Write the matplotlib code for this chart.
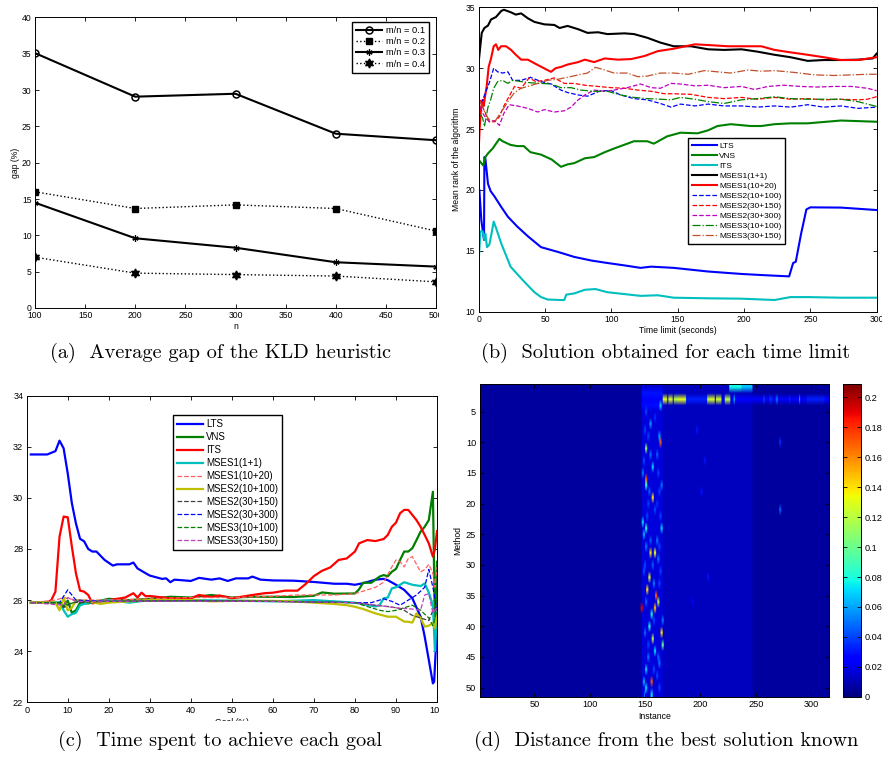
import matplotlib
matplotlib.use("Agg")
import matplotlib.pyplot as plt
import numpy as np
from matplotlib.transforms import Bbox, TransformedBbox

W, H = 882, 758

# ---------------- (a) KLD heuristic gap ----------------
n_values = [100, 200, 300, 400, 500]
gap_01 = [35.1, 29.1, 29.5, 24.0, 23.1]
gap_02 = [16.0, 13.7, 14.2, 13.7, 10.6]
gap_03 = [14.5, 9.6, 8.3, 6.3, 5.7]
gap_04 = [7.0, 4.8, 4.6, 4.4, 3.6]

# ---------------- (b) mean rank vs time limit ----------------
lts_t = [0.5, 2, 3, 4, 4.3, 5, 7, 9, 12, 17, 22, 29, 37, 47, 60, 72, 85, 97, 110, 122, 130, 147, 173, 198, 215, 234,
         237, 239, 243, 247, 250, 273, 300]
lts_v = [20.0, 17.5, 16.7, 15.9, 22.7, 22.6, 20.5, 19.9, 19.45, 18.6, 17.8, 17.0, 16.2, 15.3, 14.9, 14.5, 14.2, 14.0,
         13.8, 13.6, 13.7, 13.6, 13.3, 13.1, 13.0, 12.9, 14.0, 14.1, 16.4, 18.4, 18.57, 18.55, 18.35]
vns_t = [0, 2, 3.5, 5, 7, 10.5, 15.6, 18, 24, 29, 34, 39, 47, 55, 62, 67, 72, 80, 87, 95, 102, 112, 117, 127, 132, 142,
         152, 165, 173, 180, 190, 205, 213, 223, 235, 248, 273, 300]
vns_v = [22.46, 22.2, 22.0, 22.7, 23.0, 23.4, 24.2, 24.0, 23.7, 23.6, 23.6, 23.1, 22.9, 22.5, 21.9, 22.1, 22.2, 22.6,
         22.7, 23.1, 23.4, 23.8, 24.0, 24.0, 23.8, 24.4, 24.7, 24.65, 24.9, 25.25, 25.4, 25.25, 25.25, 25.4, 25.47,
         25.47, 25.7, 25.6]
its_t = [0, 1.3, 3, 4.3, 5, 6.3, 8, 9.3, 11.3, 13, 17, 24, 34, 42, 47, 52, 62, 64.5, 66, 72, 80, 88, 97, 122, 135,
         147, 173, 198, 223, 235, 248, 273, 300]
its_v = [14.2, 16.6, 16.6, 15.9, 16.4, 15.3, 15.5, 16.2, 17.4, 16.9, 15.6, 13.7, 12.5, 11.6, 11.2, 11.0, 10.96, 10.96,
         11.4, 11.5, 11.8, 11.86, 11.6, 11.3, 11.35, 11.15, 11.1, 11.07, 10.96, 11.2, 11.2, 11.15, 11.15]
m11_t = [0, 1.3, 2.3, 4.3, 7, 9.3, 13, 17, 19, 24, 28, 32, 37, 42, 49.5, 57, 61, 67, 75, 82, 90, 97, 110, 117, 127,
         137, 147, 160, 173, 185, 198, 210, 223, 235, 248, 260, 273, 286, 297, 300]
m11_v = [30.5, 31.9, 32.9, 33.3, 33.5, 34.0, 34.2, 34.7, 34.8, 34.6, 34.4, 34.5, 34.1, 33.8, 33.6, 33.55, 33.3, 33.47,
         33.2, 32.9, 32.95, 32.8, 32.86, 32.8, 32.5, 32.1, 31.8, 31.8, 31.55, 31.5, 31.55, 31.36, 31.1, 30.9, 30.6,
         30.67, 30.67, 30.7, 30.8, 31.2]
m1020_t = [0, 0.8, 1.8, 3, 3.8, 4.8, 6, 7.5, 9.3, 11.3, 13, 14.8, 16.8, 20.6, 24.4, 28, 32, 37, 44.5, 54.5, 58, 62, 67,
           75, 80, 87, 95, 105, 115, 125, 135, 147, 163, 173, 188, 203, 213, 223, 235, 248, 260, 273, 286, 300]
m1020_v = [23.3, 25.2, 26.8, 27.4, 26.9, 27.7, 28.5, 30.1, 30.8, 31.8, 31.96, 31.5, 31.8, 31.8, 31.5, 31.1, 30.7, 30.7,
           30.26, 29.7, 30.0, 30.1, 30.3, 30.5, 30.7, 30.5, 30.8, 30.7, 30.75, 31.0, 31.4, 31.6, 31.96, 31.9, 31.8,
           31.8, 31.8, 31.5, 31.3, 31.1, 30.9, 30.67, 30.67, 30.9]
m210100_t = [1.3, 3, 5.5, 8, 11.3, 14.3, 18, 22, 25.6, 32, 39, 47, 54.5, 62, 67, 75, 82, 92, 100, 107, 117, 127, 137,
             145, 152, 163, 173, 185, 198, 210, 223, 235, 248, 260, 273, 286, 300]
m210100_v = [27.1, 27.4, 28.1, 28.8, 30.0, 29.7, 29.6, 29.7, 29.0, 29.0, 29.25, 28.9, 28.7, 28.2, 28.0, 27.8, 27.7,
             28.15, 28.15, 27.8, 27.5, 27.4, 27.1, 26.8, 27.05, 26.9, 27.05, 26.9, 26.9, 26.8, 26.9, 26.8, 27.0, 26.8,
             26.9, 26.7, 26.8]
m230150_t = [1.3, 3, 5.5, 8, 12, 15.6, 19, 23, 27, 32, 38, 43, 49.5, 57, 64.5, 72, 80, 90, 100, 110, 120, 130, 140,
             147, 160, 173, 185, 198, 210, 223, 235, 248, 260, 273, 286, 293, 300]
m230150_v = [27.4, 26.8, 26.2, 25.6, 25.6, 26.0, 26.9, 27.7, 28.5, 28.35, 29.2, 28.9, 29.0, 29.2, 28.75, 28.75, 28.6,
             28.5, 28.4, 28.35, 28.2, 28.1, 27.9, 27.9, 27.85, 27.6, 27.5, 27.6, 27.45, 27.6, 27.45, 27.5, 27.4, 27.45,
             27.4, 27.45, 27.66]
m230300_t = [1.3, 3, 5.5, 8, 12, 15.6, 19, 23, 29, 37, 44.5, 49.5, 57, 64.5, 69.6, 75, 80, 87, 95, 102, 112, 122, 130,
             137, 145, 152, 163, 173, 185, 198, 208, 218, 230, 243, 255, 268, 281, 293, 300]
m230300_v = [26.8, 26.3, 25.9, 25.6, 25.7, 25.3, 26.3, 27.0, 26.9, 26.7, 26.4, 26.6, 26.4, 26.5, 26.8, 27.4, 27.8,
             28.2, 28.1, 28.2, 28.4, 28.7, 28.4, 28.35, 28.75, 28.7, 28.55, 28.6, 28.4, 28.5, 28.25, 28.5, 28.6, 28.5,
             28.45, 28.5, 28.5, 28.35, 28.15]
m310100_t = [1.3, 3, 4.3, 7, 9, 11.3, 14.3, 18, 22, 25.6, 32, 39, 47, 54.5, 62, 69.6, 77, 87, 97, 107, 117, 127, 137,
             145, 152, 163, 173, 185, 198, 210, 223, 235, 248, 260, 273, 286, 300]
m310100_v = [26.2, 25.9, 25.2, 26.8, 27.4, 28.35, 28.9, 29.0, 28.75, 29.0, 28.9, 28.8, 28.75, 28.7, 28.4, 28.4, 28.2,
             28.1, 28.1, 27.8, 27.6, 27.5, 27.45, 27.4, 27.6, 27.45, 27.25, 27.1, 27.4, 27.5, 27.65, 27.5, 27.45,
             27.45, 27.45, 27.25, 26.85]
m330150_t = [1.3, 3, 5.5, 8, 12, 17, 22, 27, 32, 37, 44.5, 52, 60, 67, 75, 82, 88, 95, 102, 112, 120, 127, 137, 147,
             158, 170, 180, 190, 203, 213, 223, 238, 253, 268, 281, 293, 300]
m330150_v = [27.25, 26.8, 26.15, 25.75, 25.6, 26.4, 27.25, 28.0, 28.35, 28.5, 28.75, 29.0, 29.1, 29.25, 29.45, 29.6,
             30.07, 29.85, 29.6, 29.6, 29.3, 29.35, 29.6, 29.6, 29.5, 29.8, 29.7, 29.6, 29.85, 29.75, 29.8, 29.65,
             29.45, 29.4, 29.45, 29.5, 29.5]

# ---------------- (c) time spent per goal ----------------
c_lts_x = [1, 5, 7, 8, 9, 10, 11, 12, 13, 14, 15, 16, 17, 19, 21, 22, 25, 26, 27, 29, 30, 33, 34, 35, 36, 40, 42, 45,
           47, 49, 51, 54, 55, 57, 60, 65, 70, 75, 78, 80, 82, 85, 87, 88, 90, 92, 94, 96, 97, 98, 99, 99.3, 100]
c_lts_y = [31.7, 31.7, 31.83, 32.24, 31.94, 30.96, 29.8, 29.0, 28.4, 28.3, 28.0, 27.9, 27.9, 27.57, 27.35, 27.4, 27.4,
           27.47, 27.24, 27.05, 26.96, 26.83, 26.85, 26.7, 26.8, 26.75, 26.87, 26.8, 26.85, 26.75, 26.85, 26.85,
           26.92, 26.8, 26.77, 26.76, 26.71, 26.64, 26.64, 26.6, 26.66, 26.8, 26.83, 26.78, 26.6, 26.4, 26.07, 25.35,
           24.57, 23.66, 22.74, 22.8, 25.0]
c_vns_x = [1, 8, 9, 10, 11, 12, 13, 15, 20, 25, 30, 35, 40, 45, 50, 55, 60, 65, 70, 72, 75, 80, 81, 82, 84, 86, 87, 88,
           89, 90, 91, 92, 93, 94, 95, 96, 97, 98, 99, 99.5, 100]
c_vns_y = [25.9, 25.9, 25.75, 25.98, 25.5, 25.6, 25.9, 25.87, 26.05, 26.0, 26.05, 26.13, 26.1, 26.2, 26.1, 26.13,
           26.13, 26.12, 26.17, 26.3, 26.25, 26.26, 26.42, 26.68, 26.68, 26.92, 26.98, 26.93, 27.11, 27.22, 27.57,
           27.9, 27.9, 28.03, 28.35, 28.68, 28.87, 29.13, 30.24, 24.85, 27.5]
c_its_x = [1, 5, 6, 7, 8, 9, 10, 11, 12, 13, 14, 15, 16, 18, 20, 22, 24, 26, 27, 28, 29, 30, 35, 40, 42, 45, 47, 50,
           55, 58, 60, 63, 66, 68, 70, 72, 74, 76, 78, 80, 81, 83, 85, 87, 88, 89, 90, 91, 92, 93, 94, 95, 96, 97, 98,
           99, 99.5, 100]
c_its_y = [25.9, 25.9, 26.0, 26.33, 28.48, 29.27, 29.24, 28.1, 27.05, 26.37, 26.33, 26.2, 25.87, 25.95, 26.0, 26.05,
           26.1, 26.27, 26.1, 26.29, 26.15, 26.16, 26.07, 26.07, 26.2, 26.12, 26.18, 26.07, 26.2, 26.27, 26.29, 26.37,
           26.37, 26.63, 26.94, 27.15, 27.28, 27.57, 27.63, 27.9, 28.22, 28.35, 28.31, 28.39, 28.55, 28.87, 29.03,
           29.4, 29.53, 29.53, 29.33, 29.13, 28.87, 28.55, 28.22, 27.7, 28.0, 28.7]
c_m11_x = [1, 8, 9, 10, 11, 12, 13, 15, 20, 25, 30, 40, 50, 60, 70, 75, 80, 85, 86, 87, 88, 89, 90, 92, 94, 96, 97, 98,
           99, 99.5, 100]
c_m11_y = [25.9, 25.9, 25.6, 25.35, 25.45, 25.5, 25.8, 25.9, 26.0, 25.9, 26.0, 26.0, 25.98, 25.95, 26.0, 25.95, 25.9,
           25.75, 25.8, 26.07, 26.1, 26.46, 26.5, 26.7, 26.6, 26.55, 26.65, 26.3, 25.8, 24.0, 25.5]
c_m1020_x = [1, 7, 9, 12, 20, 30, 40, 50, 60, 66, 70, 75, 80, 83, 85, 87, 88, 89, 90, 91, 92, 93, 94, 95, 96, 97, 98,
             99, 99.5, 100]
c_m1020_y = [25.9, 26.0, 26.1, 26.0, 26.0, 26.05, 26.1, 26.1, 26.15, 26.2, 26.2, 26.2, 26.25, 26.4, 26.5, 26.7, 27.0,
             27.3, 27.57, 27.5, 27.3, 27.63, 27.7, 27.4, 27.1, 27.2, 27.4, 27.05, 26.5, 27.3]
c_m210100_x = [1, 7, 8, 9, 10, 11, 12, 15, 18, 20, 30, 40, 45, 50, 60, 65, 70, 75, 78, 80, 82, 85, 88, 90, 92, 93, 94,
               95, 96, 97, 98, 99, 99.5, 100]
c_m210100_y = [25.9, 25.9, 25.6, 26.1, 25.6, 25.7, 26.0, 25.95, 25.85, 25.9, 26.0, 26.0, 25.95, 25.97, 25.97, 25.95,
               25.9, 25.85, 25.8, 25.74, 25.65, 25.48, 25.35, 25.35, 25.16, 25.15, 25.12, 25.48, 25.3, 24.96, 25.0,
               25.1, 24.9, 25.4]
c_m230150_x = [1, 8, 9, 11, 20, 40, 60, 80, 85, 88, 90, 92, 94, 96, 98, 99, 100]
c_m230150_y = [25.9, 25.9, 25.7, 25.9, 25.95, 25.98, 25.95, 25.9, 25.8, 25.75, 25.7, 25.6, 25.4, 25.3, 25.2, 25.6,
               25.8]
c_m230300_x = [1, 8, 10, 11, 12, 20, 40, 60, 80, 84, 87, 89, 91, 93, 95, 97, 98, 99, 100]
c_m230300_y = [25.9, 25.9, 26.4, 26.2, 26.0, 25.95, 25.97, 25.95, 25.9, 25.9, 26.05, 25.95, 25.8, 26.0, 26.2, 26.5,
               27.2, 26.5, 25.6]
c_m310100_x = [1, 9, 10, 12, 20, 40, 60, 80, 84, 86, 88, 90, 92, 94, 96, 98, 99, 100]
c_m310100_y = [25.9, 25.9, 25.8, 25.95, 25.95, 25.97, 25.95, 25.9, 25.7, 25.6, 25.55, 25.6, 25.7, 25.8, 25.6, 25.3,
               25.0, 25.6]
c_m330150_x = [1, 9, 10, 12, 20, 40, 60, 80, 85, 90, 94, 96, 97, 98, 99, 100]
c_m330150_y = [25.9, 25.8, 26.1, 25.95, 25.95, 25.96, 25.95, 25.9, 25.8, 25.7, 25.65, 25.6, 26.2, 26.25, 25.5, 25.7]

method_labels = ["LTS", "VNS", "ITS", "MSES1(1+1)", "MSES1(10+20)", "MSES2(10+100)", "MSES2(30+150)",
                 "MSES2(30+300)", "MSES3(10+100)", "MSES3(30+150)"]

# ---------------- (d) distance heatmap (51 methods x 316 instances) ----------------
n_methods, n_instances = 51, 316
heat_background = 0.006
# (first col, last col, value) applied to every method
heat_bands = [(147, 165, 0.017), (166, 246, 0.012)]
# (row, first col, last col, value)
heat_spans = [(1, 226, 236, 0.078), (1, 237, 246, 0.066),
              (2, 147, 165, 0.03), (4, 147, 165, 0.028), (3, 147, 316, 0.026),
              (3, 166, 169, 0.13), (3, 171, 174, 0.13), (3, 176, 178, 0.12), (3, 179, 186, 0.13),
              (3, 187, 205, 0.032), (3, 206, 208, 0.12), (3, 209, 212, 0.13), (3, 214, 218, 0.125),
              (3, 222, 226, 0.12), (3, 230, 230, 0.075), (3, 257, 257, 0.045), (3, 262, 264, 0.035),
              (3, 268, 269, 0.05), (3, 280, 280, 0.035), (3, 289, 289, 0.06), (3, 296, 311, 0.032)]
# (row, col, value) isolated spots, two instances wide
heat_spots = [(4, 163, 0.07), (7, 154, 0.06), (9, 162, 0.06), (10, 163, 0.17), (11, 150, 0.11), (12, 154, 0.05),
              (13, 148, 0.04), (14, 156, 0.07), (15, 147, 0.05), (16, 150, 0.17), (17, 150, 0.08), (17, 164, 0.05),
              (19, 156, 0.14), (20, 152, 0.04), (23, 147, 0.07), (24, 150, 0.08), (24, 164, 0.07), (25, 148, 0.06),
              (26, 160, 0.05), (28, 154, 0.14), (28, 158, 0.13), (29, 161, 0.05), (30, 149, 0.04), (32, 153, 0.13),
              (34, 151, 0.14), (35, 159, 0.17), (36, 161, 0.12), (37, 146, 0.19), (37, 158, 0.15), (38, 155, 0.08),
              (39, 165, 0.05), (40, 153, 0.08), (41, 164, 0.14), (42, 156, 0.12), (43, 165, 0.1), (44, 158, 0.07),
              (46, 162, 0.05), (47, 150, 0.07), (49, 148, 0.06), (49, 155, 0.17), (50, 150, 0.07), (51, 155, 0.07),
              (5, 150, 0.04), (8, 149, 0.04), (18, 162, 0.04), (21, 158, 0.04), (22, 163, 0.04), (27, 150, 0.05),
              (31, 163, 0.04), (33, 157, 0.05), (45, 152, 0.05), (48, 160, 0.04), (6, 158, 0.035), (9, 152, 0.04),
              (12, 160, 0.045), (15, 161, 0.04), (18, 153, 0.045), (20, 160, 0.035), (22, 151, 0.04),
              (26, 154, 0.045), (27, 162, 0.04), (30, 156, 0.045), (31, 148, 0.04), (33, 162, 0.04),
              (36, 150, 0.045), (39, 157, 0.04), (41, 149, 0.045), (43, 152, 0.04), (45, 161, 0.045),
              (47, 157, 0.04), (50, 162, 0.04), (51, 149, 0.045),
              (8, 196, 0.03), (10, 271, 0.035), (21, 271, 0.045), (13, 203, 0.03), (18, 200, 0.03), (32, 206, 0.03),
              (36, 192, 0.025)]
heat_max = 0.209

plt.rcParams["font.family"] = ["Liberation Sans", "DejaVu Sans"]
plt.rcParams["font.size"] = 6.2
plt.rcParams["axes.linewidth"] = 0.7
for a in ("xtick", "ytick"):
    plt.rcParams[a + ".direction"] = "in"
    plt.rcParams[a + ".major.size"] = 3
    plt.rcParams[a + ".major.width"] = 0.6
    plt.rcParams[a + ".major.pad"] = 2.5
plt.rcParams["xtick.top"] = True
plt.rcParams["ytick.right"] = True

fig = plt.figure(figsize=(W / 100, H / 100), dpi=100)


def px_axes(l, t, r, b):
    return fig.add_axes([l / W, 1 - b / H, (r - l) / W, (b - t) / H])


def clip_texts(texts, l, t, r, b):
    box = TransformedBbox(Bbox.from_extents(l / W, 1 - b / H, r / W, 1 - t / H), fig.transFigure)
    for txt in texts:
        txt.set_clip_box(box)
        txt.set_clip_on(True)


def legend_at(ax, handles, labels, x, y, size, spacing, hlen, pad):
    leg = ax.legend(handles, labels, loc="upper left", bbox_to_anchor=(x / W, 1 - y / H),
                    bbox_transform=fig.transFigure, borderaxespad=0, fontsize=size, labelspacing=spacing,
                    handlelength=hlen, handletextpad=pad, borderpad=0.45, fancybox=False, framealpha=1,
                    edgecolor="black")
    leg.get_frame().set_linewidth(1.0)
    return leg


# ---- (a)
ax_a = px_axes(35, 17.5, 436, 308)
ax_a.plot(n_values, gap_01, "-", color="black", lw=1.5, marker="o", ms=5, mfc="none", mew=1.1, label="m/n = 0.1")
ax_a.plot(n_values, gap_02, ":", color="black", lw=1.0, marker="s", ms=5, label="m/n = 0.2")
ax_a.plot(n_values, gap_03, "-", color="black", lw=1.5, marker=(6, 2, 0), ms=4.5, mew=0.9, label="m/n = 0.3")
ax_a.plot(n_values, gap_04, ":", color="black", lw=1.0, marker=(6, 1, 0), ms=6.5, label="m/n = 0.4")
ax_a.set_xlim(100, 500)
ax_a.set_ylim(0, 40)
ax_a.set_xticks(np.arange(100, 501, 50))
ax_a.set_yticks(np.arange(0, 41, 5))
ax_a.set_xlabel("n", labelpad=1)
ax_a.set_ylabel("gap (%)", labelpad=1)
h, lab = ax_a.get_legend_handles_labels()
legend_at(ax_a, h, lab, 351.7, 21.7, 6.7, 0.24, 2.8, 0.4)
clip_texts(ax_a.get_xticklabels(), 0, 0, 439, 345)

# ---- (b)
ax_b = px_axes(478.7, 7.3, 876.7, 311.7)
b_series = [(lts_t, lts_v, "-", "#0000ff", 1.5), (vns_t, vns_v, "-", "#008000", 1.5),
            (its_t, its_v, "-", "#00bfbf", 1.5), (m11_t, m11_v, "-", "black", 1.5),
            (m1020_t, m1020_v, "-", "#ff0000", 1.5), (m210100_t, m210100_v, "--", "#0000ff", 0.9),
            (m230150_t, m230150_v, "--", "#ff0000", 0.9), (m230300_t, m230300_v, "--", "#bf00bf", 0.9),
            (m310100_t, m310100_v, "-.", "#008000", 0.9), (m330150_t, m330150_v, "-.", "#c0502a", 0.9)]
b_handles = []
for t, v, ls, col, lw in b_series:
    ln, = ax_b.plot(t, v, ls, color=col, lw=lw)
    b_handles.append(ln)
ax_b.set_xlim(0, 300)
ax_b.set_ylim(10, 35)
ax_b.set_xticks(np.arange(0, 301, 50))
ax_b.set_yticks(np.arange(10, 36, 5))
ax_b.set_xlabel("Time limit (seconds)", labelpad=1)
ax_b.set_ylabel("Mean rank of the algorithm", labelpad=3)
legend_at(ax_b, b_handles, method_labels, 688, 138, 6.0, 0.27, 3.0, 0.3)

# ---- (c)
ax_c = px_axes(26.7, 395.7, 437, 702.3)
c_series = [(c_lts_x, c_lts_y, "-", "#0000ff", 1.6), (c_vns_x, c_vns_y, "-", "#008000", 1.6),
            (c_its_x, c_its_y, "-", "#ff0000", 1.6), (c_m11_x, c_m11_y, "-", "#00bfbf", 1.6),
            (c_m1020_x, c_m1020_y, "--", "#ff6060", 0.9), (c_m210100_x, c_m210100_y, "-", "#bfbf00", 1.6),
            (c_m230150_x, c_m230150_y, "--", "#404040", 0.9), (c_m230300_x, c_m230300_y, "--", "#0000ff", 0.9),
            (c_m310100_x, c_m310100_y, "--", "#008000", 0.9), (c_m330150_x, c_m330150_y, "--", "#bf40bf", 0.9)]
c_handles = []
for x, y, ls, col, lw in c_series:
    ln, = ax_c.plot(x, y, ls, color=col, lw=lw)
    c_handles.append(ln)
ax_c.set_xlim(0, 100)
ax_c.set_ylim(22, 34)
ax_c.set_xticks(np.arange(0, 101, 10))
ax_c.set_yticks(np.arange(22, 35, 2))
ax_c.tick_params(labelsize=6.6)
ax_c.set_xlabel("Goal (%)", labelpad=2)
legend_at(ax_c, c_handles, method_labels, 173, 415, 7.0, 0.3, 2.6, 0.35)
clip_texts(ax_c.get_xticklabels() + ax_c.get_yticklabels(), 0, 393, 439, 760)
clip_texts([ax_c.xaxis.label], 0, 393, 439, 721)

# ---- (d)
heat = np.full((n_methods, n_instances), heat_background)
for c0, c1, val in heat_bands:
    heat[:, c0 - 1:c1] = val
for r, c0, c1, val in heat_spans:
    heat[r - 1, c0 - 1:c1] = val
for r, c, val in heat_spots:
    heat[r - 1, c - 1:c + 1] = val

ax_d = px_axes(479.7, 384, 829.3, 696.7)
im = ax_d.imshow(heat, cmap="jet", vmin=0, vmax=heat_max, aspect="auto", interpolation="bilinear",
                 extent=(0.5, n_instances + 0.5, n_methods + 0.5, 0.5))
ax_d.set_xticks(np.arange(50, 301, 50))
ax_d.set_yticks(np.arange(5, 51, 5))
ax_d.tick_params(labelsize=6.6, color="black")
ax_d.set_xlabel("Instance", labelpad=2)
ax_d.set_ylabel("Method", labelpad=3)

cax = px_axes(842.7, 384, 861, 696.7)
cb = fig.colorbar(im, cax=cax)
cb.set_ticks(np.arange(0, 0.201, 0.02))
cb.set_ticklabels(["0", "0.02", "0.04", "0.06", "0.08", "0.1", "0.12", "0.14", "0.16", "0.18", "0.2"])
cax.tick_params(direction="in", left=True, right=True, length=3, labelsize=6.6)
cb.outline.set_linewidth(0.7)

# ---- captions
cap = dict(fontfamily="cmr10", fontsize=14.6, ha="center", va="center")
fig.text(220 / W, 1 - 353 / H, "(a)  Average gap of the KLD heuristic", **cap)
fig.text(666 / W, 1 - 353 / H, "(b)  Solution obtained for each time limit", **cap)
fig.text(220 / W, 1 - 741 / H, "(c)  Time spent to achieve each goal", **cap)
fig.text(666 / W, 1 - 741 / H, "(d)  Distance from the best solution known", **cap)

fig.savefig("out.png", dpi=100)
